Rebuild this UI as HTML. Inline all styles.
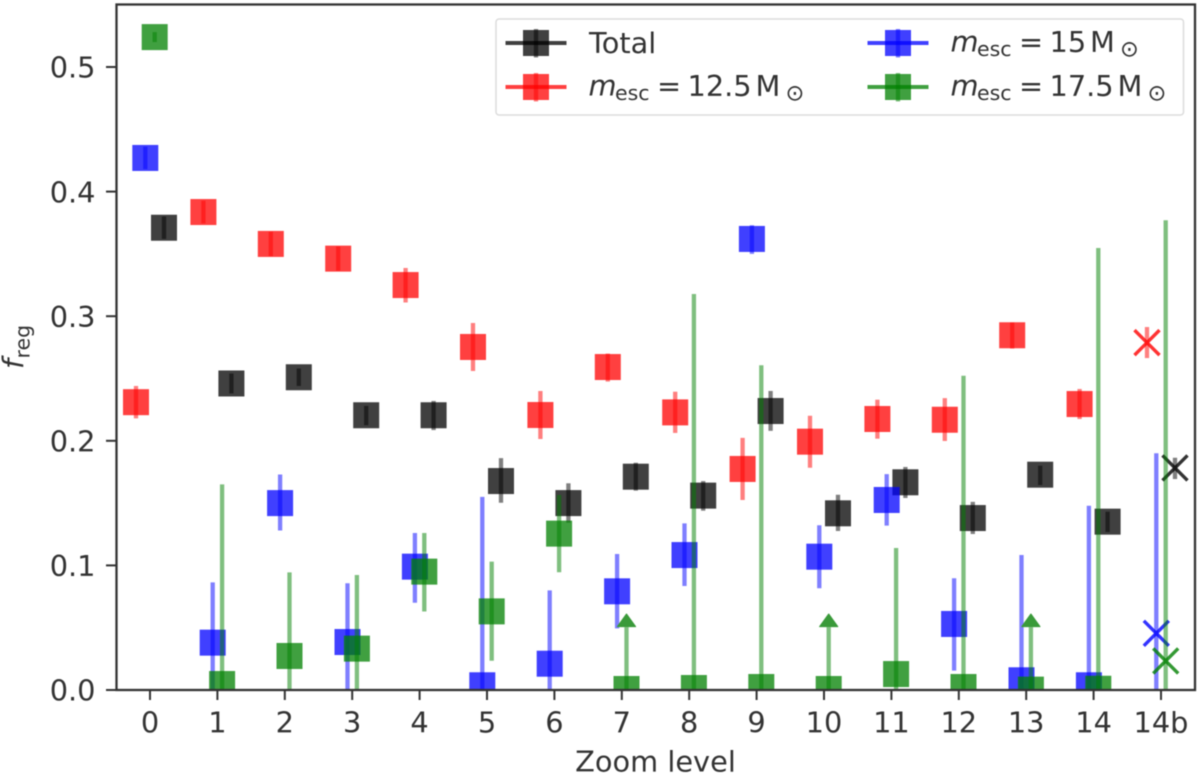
<!DOCTYPE html>
<html>
<head>
<meta charset="utf-8">
<title>Fraction of regular orbits by zoom level</title>
<style>
html,body{margin:0;padding:0;background:#fff;}
svg{display:block;filter:blur(0.4px);}
text{font-family:"DejaVu Sans","Liberation Sans",sans-serif;fill:#333;}
</style>
</head>
<body>
<svg id="chart" xmlns="http://www.w3.org/2000/svg" width="1200" height="776" viewBox="0 0 1200 776">
  <defs><clipPath id="plot-clip"><rect x="116.5" y="4.5" width="1078.5" height="685.5"/></clipPath></defs>
  <g id="marks" clip-path="url(#plot-clip)"></g>
  <g id="axes"></g>
  <g>
    <rect x="496" y="19" width="687.5" height="96" rx="3" fill="#fff" fill-opacity="0.9" stroke="#dcdcdc" stroke-width="1.5"/>
    <g>
      <line x1="505.5" x2="566.5" y1="43" y2="43" stroke="#000" stroke-width="4" stroke-opacity="0.75"/>
      <rect x="523" y="30" width="26" height="26" fill="#000" fill-opacity="0.75"/>
      <line x1="536" x2="536" y1="29" y2="57.5" stroke="#000" stroke-width="4.3" stroke-opacity="0.5"/>
      <text x="589" y="53" font-size="28.8">Total</text>
    </g>
    <g>
      <line x1="505.5" x2="566.5" y1="87" y2="87" stroke="#f00" stroke-width="4" stroke-opacity="0.75"/>
      <rect x="523" y="74" width="26" height="26" fill="#f00" fill-opacity="0.75"/>
      <line x1="536" x2="536" y1="73" y2="101.5" stroke="#f00" stroke-width="4.3" stroke-opacity="0.5"/>
      <text x="588.5" y="95.5" font-size="28.8" font-style="italic">m</text>
      <text x="615" y="100" font-size="20.5">esc</text>
      <text x="657" y="96" font-size="28.8">=</text>
      <text x="687.5" y="96" font-size="28.8">12.5</text>
      <text x="755.5" y="96" font-size="28.8">M</text>
      <text x="785.5" y="100.5" font-size="22.5">⊙</text>
    </g>
    <g>
      <line x1="867.5" x2="928.5" y1="43" y2="43" stroke="#00f" stroke-width="4" stroke-opacity="0.75"/>
      <rect x="885" y="30" width="26" height="26" fill="#00f" fill-opacity="0.75"/>
      <line x1="898" x2="898" y1="29" y2="57.5" stroke="#00f" stroke-width="4.3" stroke-opacity="0.5"/>
      <text x="950.5" y="51.5" font-size="28.8" font-style="italic">m</text>
      <text x="977" y="56" font-size="20.5">esc</text>
      <text x="1019" y="52" font-size="28.8">=</text>
      <text x="1049.5" y="52" font-size="28.8">15</text>
      <text x="1090" y="52" font-size="28.8">M</text>
      <text x="1120" y="56.5" font-size="22.5">⊙</text>
    </g>
    <g>
      <line x1="867.5" x2="928.5" y1="87" y2="87" stroke="#008000" stroke-width="4" stroke-opacity="0.75"/>
      <rect x="885" y="74" width="26" height="26" fill="#008000" fill-opacity="0.75"/>
      <line x1="898" x2="898" y1="73" y2="101.5" stroke="#008000" stroke-width="4.3" stroke-opacity="0.5"/>
      <text x="950.5" y="95.5" font-size="28.8" font-style="italic">m</text>
      <text x="977" y="100" font-size="20.5">esc</text>
      <text x="1019" y="96" font-size="28.8">=</text>
      <text x="1049.5" y="96" font-size="28.8">17.5</text>
      <text x="1117.5" y="96" font-size="28.8">M</text>
      <text x="1147.5" y="100.5" font-size="22.5">⊙</text>
    </g>
  </g>
  <text x="655.5" y="771.5" font-size="28.8" text-anchor="middle">Zoom level</text>
  <g transform="translate(23,369) rotate(-90)">
    <text x="0" y="0" font-size="28.8" font-style="italic">f</text>
    <text x="10.5" y="6.5" font-size="20.5">reg</text>
  </g>
</svg>
<script>
const categories = ['0','1','2','3','4','5','6','7','8','9','10','11','12','13','14','14b'];
const yTicks = [0.0,0.1,0.2,0.3,0.4,0.5];

const totalValues = [0.371,0.246,0.251,0.2205,0.2205,0.1677,0.15,0.1712,0.156,0.2239,0.1418,0.1667,0.138,0.1728,0.1351,0.1782];
const totalUpper  = [0.380,0.254,0.258,0.228,0.232,0.1861,0.1659,0.1824,0.1677,0.24,0.1567,0.179,0.151,0.18,0.1431,0.1864];
const totalLower  = [0.362,0.238,0.244,0.2125,0.2086,0.1503,0.1343,0.16,0.1439,0.208,0.1276,0.1541,0.1252,0.1645,0.1268,0.1693];

const redValues = [0.231,0.3836,0.358,0.3462,0.325,0.2753,0.2207,0.2592,0.2228,0.1774,0.1993,0.2175,0.2169,0.2847,0.2295,0.2788];
const redUpper  = [0.244,0.3927,0.3678,0.356,0.3387,0.2945,0.24,0.27,0.2394,0.2023,0.2201,0.233,0.2342,0.295,0.2416,0.2913];
const redLower  = [0.218,0.3745,0.3482,0.3365,0.311,0.256,0.2014,0.2475,0.2063,0.1525,0.1784,0.2017,0.1998,0.274,0.2175,0.2664];

const blueValues = [0.427,0.038,0.15,0.0385,0.099,0.0038,0.0211,0.0792,0.1083,0.362,0.107,0.1525,0.053,0.0078,0.0038,0.0455];
const blueUpper  = [0.436,0.0864,0.173,0.0857,0.126,0.155,0.08,0.1091,0.1337,0.373,0.1322,0.1733,0.0897,0.1083,0.1479,0.19];
const blueLower  = [0.418,0,0.128,0,0.07,0,0,0.0495,0.0835,0.35,0.0817,0.1319,0.0155,0,0,0];

const greenValues = [0.524,0.0048,0.0273,0.0332,0.095,0.0631,0.1255,0.0008,0.0016,0.0024,0.0008,0.0128,0.0024,0.0003,0.001,0.0233];
const greenUpper  = [0.528,0.165,0.0944,0.0923,0.126,0.103,0.1565,0.0505,0.3178,0.2606,0.0505,0.114,0.2522,0.0505,0.3547,0.377];
const greenLower  = [0.52,0,0,0,0.063,0.0235,0.0945,0,0,0,0,0,0,0,0,0];
const greenIsLimit = [false,false,false,false,false,false,false,true,false,false,true,false,false,true,false,false];

const NS = 'http://www.w3.org/2000/svg';
function xScale(i){ return 150 + i * 67.4; }
function yScale(v){ return 690 - v * 1246; }
function make(tag, attrs, parent){
  const el = document.createElementNS(NS, tag);
  for (const k in attrs) el.setAttribute(k, attrs[k]);
  parent.appendChild(el);
  return el;
}

const marks = document.getElementById('marks');
const axes = document.getElementById('axes');
const lastIndex = categories.length - 1;

function drawSeries(name, color, offset, values, upper, lower, limits){
  const group = make('g', {}, marks);
  
  
  values.forEach(function(v, i){
    const cx = xScale(i) + offset;
    const cy = yScale(v);
    const bar = make('line', {x1:cx, x2:cx, y1:yScale(lower[i]), y2:yScale(upper[i]), stroke:color, 'stroke-width':4.3, 'stroke-opacity':0.5}, group);
    
    
    if (limits && limits[i]) {
      const ty = yScale(upper[i]);
      const arrow = make('path', {d:'M'+(cx-9)+' '+(ty-0.5)+' L'+cx+' '+(ty-13)+' L'+(cx+9)+' '+(ty-0.5)+' Z', fill:'#3a9a3a', stroke:'#3a9a3a', 'stroke-width':1.2, 'stroke-linejoin':'round'}, group);
      
      
    }
    if (i === lastIndex) {
      const r = 12.5;
      const cross = make('path', {d:'M'+(cx-r)+' '+(cy-r)+' L'+(cx+r)+' '+(cy+r)+' M'+(cx-r)+' '+(cy+r)+' L'+(cx+r)+' '+(cy-r), fill:'none', stroke:color, 'stroke-opacity':0.8, 'stroke-width':3.4}, group);
      
      
    } else {
      const square = make('rect', {x:cx-13, y:cy-13, width:26, height:26, fill:color, 'fill-opacity':0.75}, group);
      
      
    }
  });
}

drawSeries('total', '#000000', 14, totalValues, totalUpper, totalLower);
drawSeries('mesc-12-5', '#ff0000', -14, redValues, redUpper, redLower);
drawSeries('mesc-15', '#0000ff', -4.7, blueValues, blueUpper, blueLower);
drawSeries('mesc-17-5', '#008000', 4.7, greenValues, greenUpper, greenLower, greenIsLimit);

yTicks.forEach(function(t){
  const y = yScale(t);
  const tick = make('line', {x1:106, x2:116.5, y1:y, y2:y, stroke:'#333', 'stroke-width':2}, axes);
  
  
  const label = make('text', {x:95.5, y:y+10.7, 'font-size':28.8, 'text-anchor':'end'}, axes);
  
  
  label.textContent = t.toFixed(1);
});

categories.forEach(function(c, i){
  const x = xScale(i);
  const tick = make('line', {x1:x, x2:x, y1:690, y2:700, stroke:'#333', 'stroke-width':2}, axes);
  
  
  const label = make('text', {x:x, y:732.5, 'font-size':28.8, 'text-anchor':'middle'}, axes);
  
  
  label.textContent = c;
});

const frame = make('rect', {x:116.5, y:4.5, width:1078.5, height:685.5, fill:'none', stroke:'#333', 'stroke-width':2.3}, axes);


</script>
</body>
</html>
